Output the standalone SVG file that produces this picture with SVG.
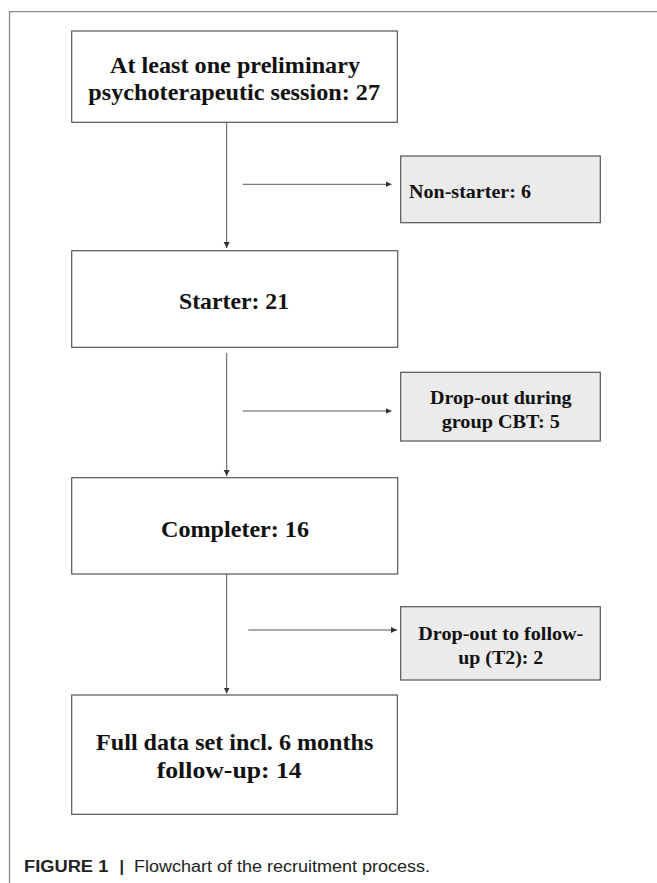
<svg xmlns="http://www.w3.org/2000/svg" width="657" height="883" viewBox="0 0 657 883">
<style>
.frame{fill:none;stroke:#8a8a8a;stroke-width:1.3}
.box{fill:#ffffff;stroke:#555555;stroke-width:1.2}
.side{fill:#ebebeb;stroke:#555555;stroke-width:1.2}
.conn{fill:none;stroke:#555555;stroke-width:1}
.t{font-family:"Liberation Serif","Times New Roman",serif;font-weight:bold;fill:#111111;text-anchor:middle}
.main{font-size:23px}
.st{font-size:19.5px}
.cap{font-family:"Liberation Sans",Arial,sans-serif;font-size:16px;fill:#222222}
</style>
<defs>
<marker id="ah" markerUnits="userSpaceOnUse" markerWidth="8" markerHeight="8" refX="6" refY="3" orient="auto">
<path d="M0,0 L6,3 L0,6 Z" fill="#333333"/>
</marker>
</defs>
<rect width="657" height="883" fill="#ffffff"/>
<path class="frame" d="M9.5,883 L9.5,11.7 L657,11.7"/>
<g id="connectors">
<line class="conn" x1="226.7" y1="122.3" x2="226.7" y2="248" marker-end="url(#ah)"/>
<line class="conn" x1="226.7" y1="353" x2="226.7" y2="476" marker-end="url(#ah)"/>
<line class="conn" x1="226.7" y1="574" x2="226.7" y2="693.5" marker-end="url(#ah)"/>
<line class="conn" x1="242.7" y1="184.3" x2="391.5" y2="184.3" marker-end="url(#ah)"/>
<line class="conn" x1="242.7" y1="411" x2="391.5" y2="411" marker-end="url(#ah)"/>
<line class="conn" x1="248.3" y1="630" x2="397" y2="630" marker-end="url(#ah)"/>
</g>
<g id="n1">
<rect class="box" x="71.7" y="31" width="325.6" height="91.3"/>
<text class="t main" x="235" y="73.3" textLength="250" lengthAdjust="spacingAndGlyphs">At least one preliminary</text>
<text class="t main" x="234.2" y="100" textLength="291.7" lengthAdjust="spacingAndGlyphs">psychoterapeutic session: 27</text>
</g>
<g id="n2">
<rect class="side" x="400.7" y="156" width="199.6" height="66.7"/>
<text class="t st" x="470" y="198.3" textLength="122" lengthAdjust="spacingAndGlyphs">Non-starter: 6</text>
</g>
<g id="n3">
<rect class="box" x="71.7" y="250.7" width="326" height="96.6"/>
<text class="t main" x="234" y="309" textLength="110" lengthAdjust="spacingAndGlyphs">Starter: 21</text>
</g>
<g id="n4">
<rect class="side" x="400.7" y="372.3" width="199.6" height="68.7"/>
<text class="t st" x="500.8" y="404" textLength="141.7" lengthAdjust="spacingAndGlyphs">Drop-out during</text>
<text class="t st" x="500.8" y="428" textLength="118.3" lengthAdjust="spacingAndGlyphs">group CBT: 5</text>
</g>
<g id="n5">
<rect class="box" x="71.7" y="477.7" width="326" height="96.3"/>
<text class="t main" x="235" y="536.7" textLength="148" lengthAdjust="spacingAndGlyphs">Completer: 16</text>
</g>
<g id="n6">
<rect class="side" x="400.7" y="606.7" width="199.6" height="73.3"/>
<text class="t st" x="500.8" y="640" textLength="165" lengthAdjust="spacingAndGlyphs">Drop-out to follow-</text>
<text class="t st" x="500.8" y="664.3" textLength="85" lengthAdjust="spacingAndGlyphs">up (T2): 2</text>
</g>
<g id="n7">
<rect class="box" x="71.7" y="695" width="325.6" height="119.3"/>
<text class="t main" x="234.7" y="750" textLength="277.3" lengthAdjust="spacingAndGlyphs">Full data set incl. 6 months</text>
<text class="t main" x="229.2" y="778.3" textLength="145" lengthAdjust="spacingAndGlyphs">follow-up: 14</text>
</g>
<g id="caption">
<text class="cap" x="24" y="871.7" font-weight="bold" textLength="84.3" lengthAdjust="spacingAndGlyphs">FIGURE 1</text>
<text class="cap" x="119.5" y="871.7" font-weight="bold">|</text>
<text class="cap" x="134" y="871.7" textLength="296" lengthAdjust="spacingAndGlyphs">Flowchart of the recruitment process.</text>
</g>
</svg>
